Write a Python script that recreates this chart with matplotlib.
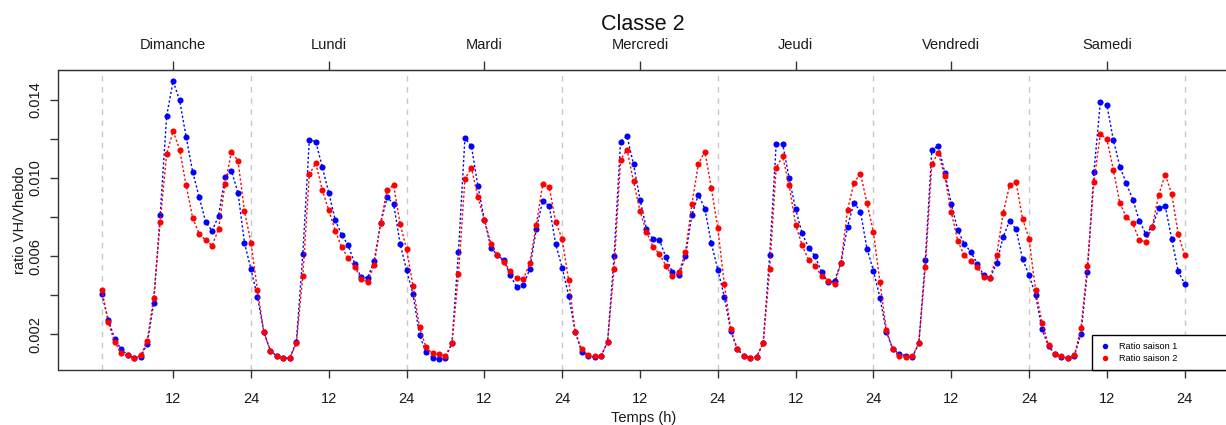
import numpy as np
import matplotlib
matplotlib.use("Agg")
import matplotlib.pyplot as plt

plt.rcParams["font.family"] = ["Liberation Sans", "DejaVu Sans"]

# Hour index over the week (1..168) and day names for the top axis
hours = np.arange(1, 169)
days = ["Dimanche", "Lundi", "Mardi", "Mercredi", "Jeudi", "Vendredi", "Samedi"]
hour_tick_labels = ["12", "24"]
day_boundaries = [1, 24, 48, 72, 96, 120, 144, 168]

# Hourly ratio VH / Vhebdo, season 1
saison1 = [
    # Dimanche
    0.00405, 0.00275, 0.00176, 0.00123, 0.00094, 0.00080, 0.00086, 0.00152,
    0.00359, 0.00811, 0.01318, 0.01496, 0.01397, 0.01211, 0.01033, 0.00905,
    0.00777, 0.00729, 0.00806, 0.01004, 0.01036, 0.00925, 0.00669, 0.00533,
    # Lundi
    0.00393, 0.00210, 0.00116, 0.00089, 0.00077, 0.00080, 0.00161, 0.00611,
    0.01195, 0.01187, 0.01057, 0.00925, 0.00785, 0.00709, 0.00656, 0.00562,
    0.00492, 0.00490, 0.00575, 0.00768, 0.00901, 0.00869, 0.00664, 0.00529,
    # Mardi
    0.00405, 0.00196, 0.00108, 0.00080, 0.00073, 0.00079, 0.00155, 0.00622,
    0.01204, 0.01164, 0.00958, 0.00787, 0.00644, 0.00606, 0.00579, 0.00502,
    0.00442, 0.00451, 0.00534, 0.00738, 0.00884, 0.00857, 0.00661, 0.00541,
    # Mercredi
    0.00398, 0.00213, 0.00111, 0.00089, 0.00084, 0.00089, 0.00162, 0.00599,
    0.01187, 0.01214, 0.01070, 0.00890, 0.00738, 0.00688, 0.00683, 0.00594,
    0.00517, 0.00502, 0.00599, 0.00811, 0.00915, 0.00843, 0.00666, 0.00531,
    # Jeudi
    0.00393, 0.00217, 0.00123, 0.00091, 0.00080, 0.00085, 0.00157, 0.00604,
    0.01175, 0.01175, 0.00999, 0.00840, 0.00717, 0.00644, 0.00599, 0.00519,
    0.00468, 0.00473, 0.00567, 0.00751, 0.00874, 0.00828, 0.00639, 0.00526,
    # Vendredi
    0.00388, 0.00213, 0.00123, 0.00099, 0.00091, 0.00084, 0.00155, 0.00579,
    0.01142, 0.01166, 0.01028, 0.00869, 0.00733, 0.00664, 0.00623, 0.00562,
    0.00502, 0.00488, 0.00565, 0.00698, 0.00782, 0.00738, 0.00584, 0.00504,
    # Samedi
    0.00401, 0.00225, 0.00140, 0.00097, 0.00082, 0.00079, 0.00091, 0.00203,
    0.00521, 0.01031, 0.01391, 0.01374, 0.01195, 0.01059, 0.00973, 0.00890,
    0.00782, 0.00714, 0.00751, 0.00845, 0.00857, 0.00687, 0.00523, 0.00458,
]

# Hourly ratio VH / Vhebdo, season 2
saison2 = [
    # Dimanche
    0.00429, 0.00261, 0.00161, 0.00103, 0.00092, 0.00080, 0.00092, 0.00166,
    0.00388, 0.00775, 0.01125, 0.01240, 0.01146, 0.00963, 0.00797, 0.00715,
    0.00683, 0.00654, 0.00738, 0.00968, 0.01135, 0.01088, 0.00831, 0.00669,
    # Lundi
    0.00427, 0.00210, 0.00116, 0.00089, 0.00077, 0.00080, 0.00154, 0.00500,
    0.01019, 0.01076, 0.00939, 0.00835, 0.00731, 0.00645, 0.00591, 0.00546,
    0.00483, 0.00468, 0.00557, 0.00770, 0.00939, 0.00963, 0.00767, 0.00635,
    # Mardi
    0.00447, 0.00236, 0.00133, 0.00103, 0.00097, 0.00091, 0.00154, 0.00507,
    0.00994, 0.01053, 0.00902, 0.00787, 0.00664, 0.00606, 0.00570, 0.00524,
    0.00487, 0.00482, 0.00565, 0.00761, 0.00968, 0.00953, 0.00775, 0.00688,
    # Mercredi
    0.00476, 0.00213, 0.00123, 0.00094, 0.00089, 0.00089, 0.00162, 0.00534,
    0.01093, 0.01146, 0.00983, 0.00831, 0.00724, 0.00649, 0.00611, 0.00552,
    0.00499, 0.00517, 0.00620, 0.00866, 0.01072, 0.01135, 0.00949, 0.00743,
    # Jeudi
    0.00458, 0.00225, 0.00126, 0.00091, 0.00077, 0.00085, 0.00157, 0.00534,
    0.01053, 0.01111, 0.00963, 0.00761, 0.00656, 0.00581, 0.00552, 0.00497,
    0.00473, 0.00458, 0.00567, 0.00837, 0.00975, 0.01023, 0.00874, 0.00722,
    # Vendredi
    0.00468, 0.00220, 0.00123, 0.00089, 0.00085, 0.00087, 0.00155, 0.00545,
    0.01072, 0.01130, 0.01009, 0.00825, 0.00680, 0.00604, 0.00575, 0.00546,
    0.00493, 0.00488, 0.00604, 0.00820, 0.00963, 0.00978, 0.00791, 0.00690,
    # Samedi
    0.00427, 0.00259, 0.00145, 0.00097, 0.00091, 0.00079, 0.00094, 0.00231,
    0.00550, 0.00980, 0.01226, 0.01199, 0.01043, 0.00871, 0.00801, 0.00768,
    0.00683, 0.00673, 0.00751, 0.00915, 0.01018, 0.00919, 0.00714, 0.00604,
]


def padded_range(lo, hi, frac=0.04):
    pad = frac * (hi - lo)
    return lo - pad, hi + pad


W, H = 1226, 425
fig = plt.figure(figsize=(W / 100, H / 100), dpi=100)
left_px, right_px, top_px, bottom_px = 58.5, 1228.0, 70.0, 370.3
ax = fig.add_axes([left_px / W, (H - bottom_px) / H,
                   (right_px - left_px) / W, (bottom_px - top_px) / H])

ax.set_xlim(padded_range(hours.min(), hours.max()))
all_vals = saison1 + saison2
ax.set_ylim(padded_range(min(all_vals), max(all_vals)))

# Day separators
for xb in day_boundaries:
    ax.axvline(xb, color="#c8c8c8", lw=1.0, ls=(0, (4, 4)), zorder=1)

dotted = (0, (1.6, 1.6))
ax.plot(hours, saison1, color="blue", lw=1.0, ls=dotted, zorder=2)
p1, = ax.plot(hours, saison1, "o", color="blue", ms=4.4, mew=0, zorder=3,
              label="Ratio saison 1")
ax.plot(hours, saison2, color="red", lw=1.0, ls=dotted, zorder=4)
p2, = ax.plot(hours, saison2, "o", color="red", ms=4.4, mew=0, zorder=5,
              label="Ratio saison 2")

# Frame
for s in ax.spines.values():
    s.set_color("#333333")
    s.set_linewidth(1.0)

# Bottom axis: hour of day
xt = np.arange(12, 169, 12)
ax.set_xticks(xt)
ax.set_xticklabels(hour_tick_labels * 7)
ax.tick_params(axis="x", length=6, width=1, color="#333333", pad=9.3,
               labelsize=10.5, labelcolor="#1a1a1a")

# Top axis: day names
top = ax.secondary_xaxis("top")
top.set_xticks(np.arange(12, 169, 24))
top.set_xticklabels(days)
top.tick_params(length=6.5, width=1, color="#333333", pad=6.5,
                labelsize=10.5, labelcolor="#1a1a1a")
top.spines["top"].set_color("#333333")

# Left axis
yt = [0.002, 0.004, 0.006, 0.008, 0.010, 0.012, 0.014]
ax.set_yticks(yt)
ax.set_yticklabels(["0.002", "", "0.006", "", "0.010", "", "0.014"])
ax.tick_params(axis="y", length=6, width=1, color="#333333", pad=5.5,
               labelsize=10.5, labelcolor="#1a1a1a", labelrotation=90)
for lab in ax.get_yticklabels():
    lab.set_verticalalignment("center")

ax.set_ylabel("ratio VH/Vhebdo", fontsize=10.5, color="#1a1a1a")
ax.yaxis.set_label_coords(-0.027, 0.5)
ax.set_xlabel("Temps (h)", fontsize=10.5, color="#1a1a1a")
ax.xaxis.set_label_coords(0.5, -0.135)

ax.set_title("Classe 2", fontsize=15.5, y=1.133, pad=0, color="#111111")

x0 = (1091.7 - left_px) / (right_px - left_px)
leg = ax.legend(handles=[p1, p2], loc="lower left",
                bbox_to_anchor=(x0, 0.0, 1.0 - x0, 0.12), mode="expand",
                fontsize=6.6, frameon=True, fancybox=False, framealpha=1,
                edgecolor="black", borderpad=0.8, labelspacing=0.3,
                handlelength=1.4, handletextpad=0.8, borderaxespad=0,
                markerscale=0.9)
leg.get_frame().set_linewidth(1.0)
leg.set_zorder(10)

fig.savefig("out.png", dpi=100)
